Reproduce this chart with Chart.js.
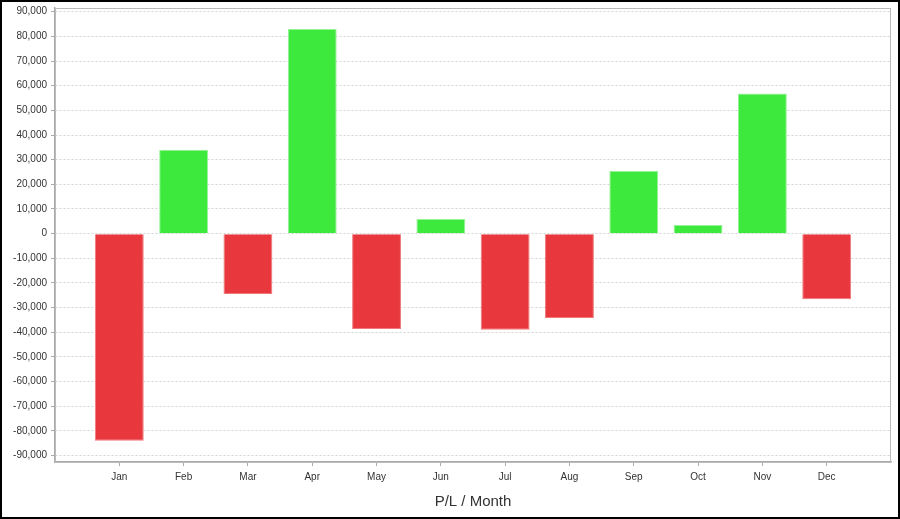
<!DOCTYPE html>
<html>
<head>
<meta charset="utf-8">
<script src="https://cdn.jsdelivr.net/npm/chart.js@4"></script>
<style>
    html, body { margin: 0; padding: 0; background: #fff; }
    #wrap { width: 900px; height: 519px; box-sizing: border-box; border: 2px solid #000; }
    #wrap canvas { display: block; }
</style>
</head>
<body>
<div id="wrap"><canvas id="plChart" width="896" height="515"></canvas></div>
<script>
    // بيانات الربح والخسارة لكل شهر
    const months = ['Jan', 'Feb', 'Mar', 'Apr', 'May', 'Jun', 'Jul', 'Aug', 'Sep', 'Oct', 'Nov', 'Dec'];
    const plValues = [-84000, 34000, -24500, 83000, -38700, 5900, -39000, -34200, 25400, 3500, 56800, -26600];
    const yTicks = [-90000, -80000, -70000, -60000, -50000, -40000, -30000, -20000, -10000, 0,
                    10000, 20000, 30000, 40000, 50000, 60000, 70000, 80000, 90000];

    const gainColor = 'rgb(61, 233, 61)';
    const lossColor = 'rgb(232, 56, 61)';

    // إطار منطقة الرسم
    const plotFrame = {
        id: 'plotFrame',
        afterDraw(chart) {
            const a = chart.chartArea;
            const ctx = chart.ctx;
            ctx.save();
            ctx.strokeStyle = '#bbb';
            ctx.lineWidth = 1;
            ctx.strokeRect(a.left + 0.5, a.top + 0.5, a.right - a.left - 1, a.bottom - a.top);
            ctx.restore();
        }
    };

    Chart.defaults.font.family = "'Liberation Sans', Arial, sans-serif";
    Chart.defaults.color = '#333';

    const ctx = document.getElementById('plChart').getContext('2d');
    window.plChart = new Chart(ctx, {
        type: 'bar',
        data: {
            datasets: [{
                data: plValues.map((v, i) => ({ x: i, y: v })),
                backgroundColor: plValues.map(v => v >= 0 ? gainColor : lossColor),
                borderColor: plValues.map(v => v >= 0 ? 'rgb(150, 242, 150)' : 'rgb(240, 120, 122)'),
                borderWidth: 1,
                barPercentage: 0.76,
                categoryPercentage: 1
            }]
        },
        options: {
            responsive: false,
            animation: false,
            layout: { padding: { top: 6, right: 7, left: 0, bottom: 0 } },
            plugins: {
                legend: { display: false },
                tooltip: { enabled: false }
            },
            scales: {
                x: {
                    type: 'linear',
                    min: -1,
                    max: 12,
                    offset: false,
                    bounds: 'data',
                    afterBuildTicks: scale => {
                        scale.ticks = months.map((m, i) => ({ value: i }));
                    },
                    afterFit: scale => { scale.height = 55; },
                    ticks: {
                        stepSize: 1,
                        autoSkip: false,
                        maxRotation: 0,
                        padding: 5,
                        font: { size: 10 },
                        callback: v => months[v] ?? ''
                    },
                    grid: {
                        display: true,
                        drawOnChartArea: false,
                        drawTicks: true,
                        tickLength: 4,
                        tickColor: '#aaa',
                        offset: false
                    },
                    border: { color: '#aaa', width: 1.5 },
                    title: {
                        display: true,
                        text: 'P/L / Month',
                        color: '#333',
                        font: { size: 15 },
                        padding: { top: 0, bottom: 6 }
                    }
                },
                y: {
                    min: -92600,
                    max: 91500,
                    bounds: 'data',
                    afterBuildTicks: scale => {
                        scale.ticks = yTicks.map(v => ({ value: v }));
                    },
                    afterFit: scale => {
                        scale.width = 53;
                        scale.paddingTop = 0;
                        scale.paddingBottom = 0;
                    },
                    ticks: {
                        padding: 4,
                        font: { size: 10 },
                        callback: v => v.toLocaleString('en-US')
                    },
                    grid: {
                        color: '#d4d4d4',
                        tickColor: '#aaa',
                        tickLength: 4,
                        tickBorderDash: []
                    },
                    border: { color: '#aaa', width: 1.5, dash: [2, 2] }
                }
            }
        },
        plugins: [plotFrame]
    });
</script>
</body>
</html>
